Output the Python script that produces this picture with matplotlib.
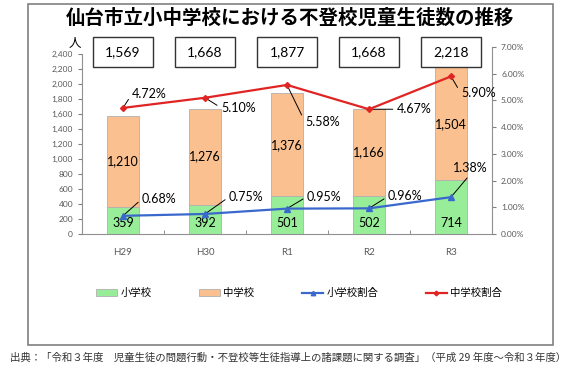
import matplotlib.pyplot as plt
import matplotlib.transforms as mtransforms
from matplotlib.patches import Rectangle
from matplotlib.ticker import FuncFormatter, PercentFormatter

plt.rcParams['font.family'] = ['Lato', 'Noto Sans CJK JP', 'DejaVu Sans']

years = ['H29', 'H30', 'R1', 'R2', 'R3']
elementary = [359, 392, 501, 502, 714]
junior = [1210, 1276, 1376, 1166, 1504]
totals = [1569, 1668, 1877, 1668, 2218]
elem_rate = [0.68, 0.75, 0.95, 0.96, 1.38]
junior_rate = [4.72, 5.10, 5.58, 4.67, 5.90]

# label offsets in pixels (dx, dy) for the percentage labels
elem_off = [(19, 17), (24, 17), (20, 12), (19, 12), (2, 29)]
junior_off = [(9, 14), (16, -10), (18, -37), (28, 0), (10, -17)]

green = '#98EE98'
orange = '#FAC090'
blue = '#3A68CC'
red = '#E02424'
grey = '#595959'

fig = plt.figure(figsize=(5.85, 3.77), dpi=100)
ax = fig.add_axes([82/585, 1-234/377, 410/585, 187/377])
x = list(range(len(years)))

ax.bar(x, elementary, width=0.4, color=green, edgecolor='#B0B0B0', linewidth=0.6, zorder=2)
ax.bar(x, junior, width=0.4, bottom=elementary, color=orange, edgecolor='#B0B0B0', linewidth=0.6, zorder=2)
for i in x:
    ax.text(i, 140, f'{elementary[i]:,}', ha='center', va='center', fontsize=9, zorder=3)
    ax.text(i, elementary[i] + junior[i] / 2, f'{junior[i]:,}', ha='center', va='center', fontsize=9, zorder=3)

ax.set_xlim(-0.5, 4.5)
ax.set_ylim(0, 2490)
ax.set_yticks(range(0, 2401, 200))
ax.yaxis.set_major_formatter(FuncFormatter(lambda v, p: f'{int(v):,}'))
ax.tick_params(axis='y', labelsize=6, colors='#808080', labelcolor=grey, length=3, width=0.8)
ax.spines['left'].set_bounds(0, 2400)
ax.set_xticks(x)
ax.set_xticklabels(years)
ax.tick_params(axis='x', length=0, labelsize=7, labelcolor=grey, pad=10)
ax.set_xticks([0.5, 1.5, 2.5, 3.5], minor=True)
ax.tick_params(axis='x', which='minor', direction='in', length=3, color='#808080')
ax.spines['top'].set_visible(False)
ax.spines['right'].set_visible(False)
for s in ['left', 'bottom']:
    ax.spines[s].set_color('#909090')

ax2 = ax.twinx()
ax2.set_ylim(0, 7)
ax2.set_yticks([0, 1, 2, 3, 4, 5, 6, 7])
ax2.yaxis.set_major_formatter(PercentFormatter(decimals=2))
ax2.tick_params(axis='y', labelsize=6, colors='#808080', labelcolor=grey, length=3, width=0.8)
ax2.spines['right'].set_color('#909090')
for s in ['top', 'left', 'bottom']:
    ax2.spines[s].set_visible(False)

l1, = ax2.plot(x, elem_rate, color=blue, lw=1.6, marker='^', ms=4, label='小学校割合', zorder=4)
l2, = ax2.plot(x, junior_rate, color=red, lw=1.6, marker='D', ms=3, label='中学校割合', zorder=4)

for i in x:
    rp = (0.5, 0) if i == 4 else (0, 0.5)
    ax2.annotate(f'{elem_rate[i]:.2f}%', xy=(i, elem_rate[i]), xytext=elem_off[i],
                 textcoords='offset pixels', fontsize=9, va='center', ha='left',
                 arrowprops=dict(arrowstyle='-', color='black', lw=0.7, shrinkA=1, shrinkB=0, relpos=rp))
    ax2.annotate(f'{junior_rate[i]:.2f}%', xy=(i, junior_rate[i]), xytext=junior_off[i],
                 textcoords='offset pixels', fontsize=9, va='center', ha='left',
                 arrowprops=dict(arrowstyle='-', color='black', lw=0.7, shrinkA=1, shrinkB=0, relpos=(0, 0.5)))

# total boxes above the bars
trans = mtransforms.blended_transform_factory(ax.transData, fig.transFigure)
for i in x:
    ax.add_patch(Rectangle((i - 0.36, 1-67/377), 0.72, 30/377, transform=trans,
                           facecolor='white', edgecolor='#333333', lw=1, clip_on=False, zorder=5))
    ax.text(i, 1-52/377, f'{totals[i]:,}', transform=trans, ha='center', va='center',
            fontsize=10, zorder=6)

fig.text(75/585, 1-43/377, '人', ha='center', va='center', fontsize=9)

fig.text(290/585, 1-18/377, '仙台市立小中学校における不登校児童生徒数の推移',
         ha='center', va='center', fontsize=14, fontweight='bold', family='Noto Sans CJK JP')

h1 = Rectangle((0, 0), 1, 1, facecolor=green, edgecolor='#B0B0B0', lw=0.6)
h2 = Rectangle((0, 0), 1, 1, facecolor=orange, edgecolor='#B0B0B0', lw=0.6)
fig.legend([h1, h2, l1, l2], ['小学校', '中学校', '小学校割合', '中学校割合'],
           loc='center', bbox_to_anchor=(299/585, 1-293/377), ncol=4, frameon=False,
           fontsize=7.5, handlelength=2.0, handleheight=0.6, handletextpad=0.3,
           columnspacing=4.6, markerscale=0.8)

fig.add_artist(Rectangle((28/585, 1-345/377), (553-28)/585, (345-4)/377,
                         transform=fig.transFigure, facecolor='none', edgecolor='#808080', lw=1.2))

fig.text(10/585, 1-358/377,
         '出典：「令和３年度　児童生徒の問題行動・不登校等生徒指導上の諸課題に関する調査」（平成 29 年度～令和３年度）',
         ha='left', va='center', fontsize=7.5, color='#333333', family='Noto Sans CJK JP')

plt.savefig('out.png', dpi=100)
